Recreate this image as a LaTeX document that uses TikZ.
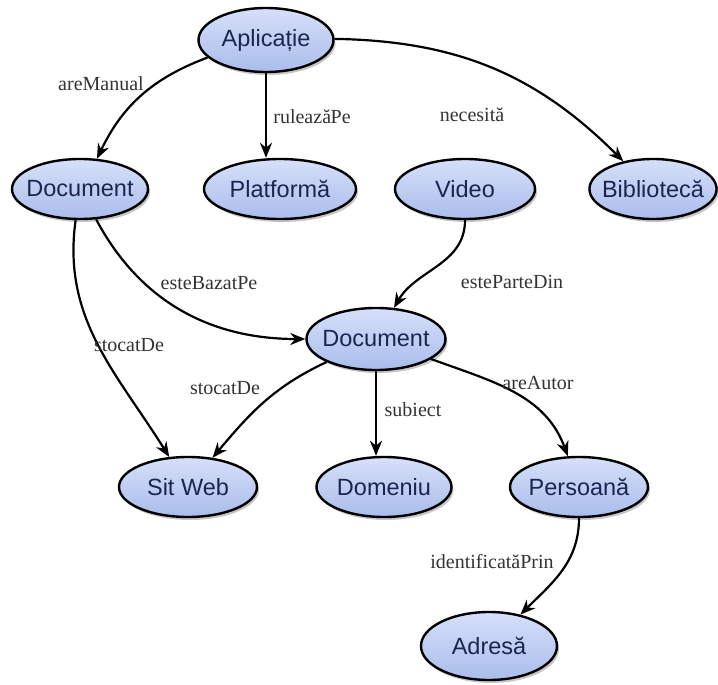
\documentclass[tikz,border=0pt]{standalone}
\usepackage{fontspec}
\setmainfont{Liberation Serif}
\newfontfamily\nodefont{Liberation Sans}
\usetikzlibrary{shapes.geometric,shadows,arrows.meta}

\definecolor{ovaltop}{HTML}{D6E0FA}
\definecolor{ovalbot}{HTML}{AABCEB}
\definecolor{ovaltext}{HTML}{1C2550}
\definecolor{labgray}{HTML}{333333}

\tikzset{
    concept/.style={ellipse, draw=black, line width=2.4pt,
        top color=ovaltop, bottom color=ovalbot,
        inner xsep=-6pt, inner ysep=0pt,
        minimum width=#1, minimum height=60pt,
        text=ovaltext, font=\nodefont\fontsize{23.5}{25}\selectfont,
        drop shadow={opacity=0.45, shadow xshift=2pt, shadow yshift=-3pt}},
    concept/.default=138pt,
    rel/.style={font=\fontsize{20}{22}\selectfont, text=labgray, inner sep=1pt},
    link/.style={line width=2.2pt, -{Stealth[length=15pt,width=12pt]}}
}

\begin{document}
\begin{tikzpicture}[x=1pt,y=1pt]
    \useasboundingbox (0,0) rectangle (718,-685);

    % concepts
    \node[concept=135pt, minimum height=64pt] (aplicatie) at (266,-40) {Aplicație};
    \node[concept=136pt] (doc1) at (80,-189) {Document};
    \node[concept=152pt] (platforma) at (280,-189) {Platformă};
    \node[concept=140pt] (video) at (465,-189) {Video};
    \node[concept=126pt] (biblioteca) at (653,-189) {Bibliotecă};
    \node[concept=139pt, minimum height=62pt] (doc2) at (376,-339) {Document};
    \node[concept=138pt] (situl) at (188,-487) {Sit Web};
    \node[concept=135pt] (domeniu) at (384,-487) {Domeniu};
    \node[concept=138pt] (persoana) at (579,-487) {Persoană};
    \node[concept=136pt, minimum height=68pt] (adresa) at (489,-646) {Adresă};

    % relations
    \draw[link] (aplicatie) to[bend right=22] (doc1);
    \draw[link] (aplicatie.south) -- (aplicatie.south |- platforma.north);
    \draw[link] (aplicatie) to[bend left=22] (biblioteca);
    \draw[link] (doc1) to[out=-62,in=180] (doc2);
    \draw[link] (doc1) to[out=-98,in=122] (situl);
    \draw[link] (video) to[out=-90,in=60] (doc2);
    \draw[link] (doc2) to[out=205,in=50] (situl);
    \draw[link] (doc2.south) -- (doc2.south |- domeniu.north);
    \draw[link] (doc2) to[out=-20,in=110] (persoana);
    \draw[link] (persoana) to[out=-90,in=45] (adresa);

    % labels
    \node[rel] (l-manual) at (101,-84) {areManual};
    \node[rel] (l-ruleaza) at (312,-117) {rulează\kern-.5ptPe};
    \node[rel] (l-necesita) at (472,-115) {necesită};
    \node[rel] (l-bazat) at (209,-283) {esteBazatPe};
    \node[rel] (l-stocat1) at (129,-345) {stocatDe};
    \node[rel] (l-parte) at (512,-282) {esteParteDin};
    \node[rel] (l-stocat2) at (225,-388) {stocatDe};
    \node[rel] (l-subiect) at (413,-410) {subiect};
    \node[rel] (l-autor) at (538,-383) {areAutor};
    \node[rel] (l-ident) at (492,-562) {identificatăPrin};
\end{tikzpicture}
\end{document}
